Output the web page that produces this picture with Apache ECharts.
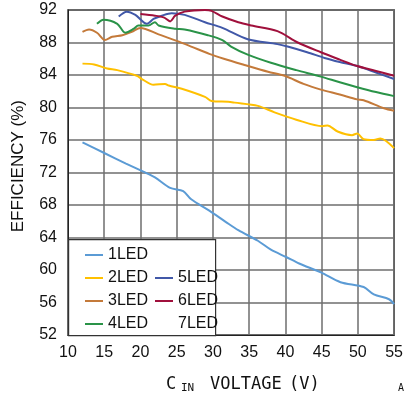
<!DOCTYPE html>
<html>
<head>
<meta charset="utf-8">
<script src="https://cdn.jsdelivr.net/npm/echarts@6/dist/echarts.min.js"></script>
<style>
  html, body { margin: 0; padding: 0; background: #fff; }
  #chart { width: 406px; height: 398px; }
</style>
</head>
<body>
<div id="chart"></div>
<script>
// axis ticks
var xTicks = [10, 15, 20, 25, 30, 35, 40, 45, 50, 55];
var yTicks = [52, 56, 60, 64, 68, 72, 76, 80, 84, 88, 92];

// efficiency curves, [VIN, efficiency %]
var led1 = [[12, 75.7], [15, 74.4], [18, 73.1], [20.4, 72.1], [22, 71.4], [24.1, 70.1], [25.9, 69.7],
  [27, 68.7], [29.5, 67.3], [31.8, 65.9], [33.5, 64.9], [36.2, 63.6], [38, 62.5], [40.1, 61.6],
  [41.9, 60.8], [44.9, 59.7], [47.6, 58.5], [50.8, 57.9], [52.2, 57.0], [54.3, 56.4], [55, 55.8]];
var led2 = [[12, 85.4], [13.6, 85.3], [15.4, 84.8], [16.8, 84.6], [19.5, 83.9], [20.2, 83.5], [21.8, 82.8],
  [23.4, 82.9], [23.9, 82.7], [25.7, 82.3], [28.9, 81.3], [29.8, 80.8], [32.1, 80.7], [33, 80.6],
  [36.2, 80.2], [38.5, 79.4], [41.5, 78.5], [45.1, 77.7], [45.8, 77.8], [47.2, 77.05], [49.2, 76.6],
  [49.9, 76.8], [50.8, 76.1], [52.2, 76.0], [53.1, 76.2], [55, 75.0]];
var led3 = [[12, 89.3], [12.9, 89.6], [14, 89.2], [15.1, 88.3], [16.1, 88.7], [17.5, 88.9], [18.8, 89.3],
  [20, 89.8], [22.5, 89.0], [25, 88.2], [27, 87.5], [29.5, 86.6], [31.5, 86.0], [34.5, 85.2],
  [37.6, 84.4], [39.9, 83.9], [42.5, 82.9], [44.9, 82.2], [47.5, 81.6], [49.9, 81.0], [50.8, 80.9],
  [53.6, 79.9], [55, 79.6]];
var led4 = [[14, 90.3], [14.9, 90.8], [16.8, 90.3], [17.9, 89.2], [19.1, 89.7], [19.7, 90.1], [21.1, 90.1],
  [22, 90.5], [22.5, 90.1], [24.8, 89.7], [26.1, 89.6], [29.3, 88.9], [31.3, 88.3], [32.5, 87.5],
  [34.8, 86.5], [38, 85.5], [41.5, 84.6], [44.9, 83.8], [47.5, 83.1], [49.9, 82.5], [52.5, 81.9], [55, 81.4]];
var led5 = [[17, 91.2], [18.1, 91.8], [19.3, 91.4], [20.9, 90.3], [21.8, 90.9], [22.95, 91.3], [24.3, 91.6],
  [26.1, 91.4], [28.9, 90.5], [31.3, 89.8], [34.8, 88.4], [38.9, 87.8], [40.3, 87.5], [43, 86.8],
  [45.4, 86.1], [47.5, 85.6], [49.9, 85.1], [52.5, 84.3], [55, 83.5]];
var led6 = [[20, 91.5], [22, 91.3], [23.2, 91.1], [24.1, 90.6], [24.8, 91.3], [26.1, 91.8], [28.9, 92.0],
  [29.8, 91.9], [31.3, 91.2], [33.5, 90.5], [35.3, 90.1], [38.9, 89.4], [41.7, 88.0], [44.9, 86.8],
  [47.5, 85.9], [49.9, 85.1], [52.5, 84.5], [55, 83.9]];
var led7 = [];

var names = ['1LED', '2LED', '3LED', '4LED', '5LED', '6LED', '7LED'];
var colors = ['#5b9bd5', '#ffc000', '#c47a3a', '#2a9348', '#4158a8', '#a0103c', 'rgba(0,0,0,0)'];
var curves = [led1, led2, led3, led4, led5, led6, led7];

var chart = echarts.init(document.getElementById('chart'));

var sans = 'Liberation Sans, Arial, sans-serif';
var mono = 'DejaVu Sans Mono, monospace';

var series = curves.map(function (d, i) {
    return {
        name: names[i],
        type: 'line',
        data: d,
        color: colors[i],
        showSymbol: false,
        smooth: 0.3,
        lineStyle: { width: 2 },
        z: 3
    };
});

var legendText = { fontFamily: sans, fontSize: 16, color: '#111' };

var option = {
    animation: false,
    backgroundColor: '#fff',
    grid: {
        left: 68, right: 8, top: 10, bottom: 63,
        show: true, borderColor: '#222', borderWidth: 1.5
    },
    xAxis: {
        type: 'value',
        min: 10, max: 55, interval: 5,
        axisLine: { lineStyle: { color: '#222' } },
        axisTick: { show: false },
        splitLine: { lineStyle: { color: '#6e6e6e', width: 1.5 } },
        axisLabel: {
            fontFamily: sans, fontSize: 16, color: '#111', margin: 10,
            formatter: function (v) { return xTicks.indexOf(v) >= 0 ? String(v) : ''; }
        }
    },
    yAxis: {
        type: 'value',
        min: 52, max: 92, interval: 4,
        axisLine: { lineStyle: { color: '#222' } },
        axisTick: { show: false },
        splitLine: { lineStyle: { color: '#6e6e6e', width: 1.5 } },
        axisLabel: {
            fontFamily: sans, fontSize: 16, color: '#111', margin: 11,
            formatter: function (v) { return yTicks.indexOf(v) >= 0 ? String(v) : ''; }
        }
    },
    legend: [{
        data: ['1LED', '2LED', '3LED', '4LED'],
        orient: 'vertical',
        left: 80, top: 242,
        itemWidth: 18, itemHeight: 2, itemGap: 7,
        icon: 'rect',
        textStyle: legendText,
        selectedMode: false,
        z: 10
    }, {
        data: ['5LED', '6LED', {name: '7LED', icon: 'none'}],
        orient: 'vertical',
        left: 150, top: 265,
        itemWidth: 18, itemHeight: 2, itemGap: 7,
        icon: 'rect',
        textStyle: legendText,
        selectedMode: false,
        z: 10
    }],
    graphic: [
        {
            type: 'rect', left: 68, top: 239, z: 5,
            shape: { width: 147, height: 96 },
            style: { fill: '#fff', stroke: '#333', lineWidth: 1.2 }
        },
        {
            type: 'text', left: 10, top: 100, rotation: Math.PI / 2, z: 5,
            style: { text: 'EFFICIENCY (%)', font: '17px ' + sans, fill: '#111' }
        },
        {
            type: 'text', left: 166, top: 376, z: 5,
            style: { text: 'C', font: '17px ' + mono, fill: '#111' }
        },
        {
            type: 'text', left: 181, top: 383, z: 5,
            style: { text: 'IN', font: '11px ' + mono, fill: '#111' }
        },
        {
            type: 'text', left: 210, top: 376, z: 5,
            style: { text: 'VOLTAGE', font: '17px ' + mono, fill: '#111' }
        },
        {
            type: 'text', left: 289, top: 376, z: 5,
            style: { text: '(V)', font: '17px ' + mono, fill: '#111' }
        },
        {
            type: 'text', left: 398, top: 383, z: 5,
            style: { text: 'A', font: '10px ' + mono, fill: '#111' }
        }
    ],
    series: series
};

chart.setOption(option);
</script>
</body>
</html>
